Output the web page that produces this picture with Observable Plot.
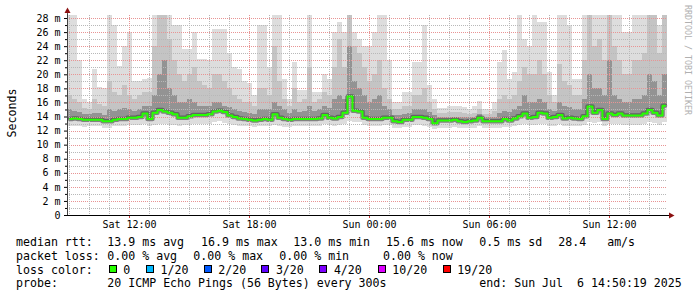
<!DOCTYPE html>
<html><head><meta charset="utf-8">
<script src="https://cdn.jsdelivr.net/npm/d3@7"></script>
<script src="https://cdn.jsdelivr.net/npm/@observablehq/plot@0.6"></script>
<style>
html,body{margin:0;padding:0;background:#fff;}
#wrap{position:relative;width:697px;height:297px;overflow:hidden;background:#fff;}
#wrap svg{position:absolute;left:0;top:0;}
#wrap text{white-space:pre;}
</style></head><body><div id="wrap"></div>
<script>
// ---- data (ms), one column per 15 minutes, starting Sat Jul 5 2025 08:54 ----
const median = [
13.7,13.8,13.7,13.6,13.6,13.6,13.6,13.4,13.4,13.6,
13.7,13.7,13.9,13.9,14.0,14.5,13.7,14.6,15.0,14.8,
14.6,14.4,13.9,13.9,14.1,14.3,14.3,14.3,14.4,14.8,
14.9,14.7,14.2,14.0,13.8,13.7,13.6,13.5,13.6,13.7,
13.6,14.4,13.9,13.7,13.6,13.7,13.7,13.7,13.7,13.7,
13.8,14.3,13.9,13.8,14.0,14.6,16.9,14.9,14.8,13.9,
13.7,13.7,13.7,13.9,13.9,13.4,13.3,13.6,13.6,14.0,
14.0,13.9,13.7,13.1,13.5,13.5,13.5,13.6,13.4,13.3,
13.4,13.5,13.9,13.4,13.4,13.4,13.4,13.7,13.5,13.8,
14.1,14.5,13.9,14.0,14.6,14.5,13.9,14.0,14.3,13.8,
13.9,13.8,13.7,14.1,15.5,14.6,15.0,13.7,14.5,14.3,
14.5,14.2,14.2,14.2,14.2,14.5,15.0,14.6,14.2,15.6];
const maxPing = [
28.4,28.4,22.0,16.5,16.0,20.7,18.2,18.0,28.4,27.0,
21.2,24.0,26.0,19.0,19.0,19.3,19.5,28.4,28.4,28.4,
28.4,27.0,27.0,23.6,23.6,26.0,22.2,22.2,22.0,26.5,
26.5,26.5,23.0,21.0,20.7,19.0,18.8,17.0,27.0,27.0,
21.0,28.4,28.4,19.3,16.5,21.7,17.7,17.7,28.4,17.5,
17.5,20.0,19.3,26.0,27.5,26.0,28.4,26.0,25.0,24.0,
24.0,26.0,28.4,28.4,22.0,16.0,16.0,17.5,17.5,21.7,
21.7,27.0,18.5,16.5,15.2,15.2,15.5,15.5,15.5,15.3,
15.1,15.5,16.2,15.0,15.1,16.0,21.7,23.4,19.3,20.3,
28.4,25.0,24.0,28.4,27.4,27.4,20.3,17.0,28.4,28.4,
27.0,19.3,19.3,28.4,28.4,28.4,28.4,28.4,28.4,28.4,
28.4,26.0,26.0,28.4,28.4,28.4,28.4,28.4,27.0,27.0];
const upper2 = [
17,16.5,16,15.2,15,16.5,15.8,15.5,19,17.5,
17,18.5,17,16.5,17,17.5,17.5,24,28.4,28.4,
25,22,20,19,20,21,19,18.5,18,20,
20,19,18,17,16.5,16,16,15.5,18,18,
17,24,19,16.5,15.5,18,16,16.5,21,16,
16.5,17.5,17,21,25,21,28.4,24,23,21,
19,20,22,18,16.5,15,15,15.5,15.5,17,
17,18,16,15,14.5,14.5,14.6,14.6,14.6,14.5,
14.4,14.5,15,14.3,14.4,14.8,16.5,17,16.5,17,
19,21,20,20,22,20,17,16,21.5,19,
18.5,17,17,22,28.4,24,25,22,28.4,24,
22,20,20,22,22,23,28.4,28.4,23,28.4];
const upper3 = [
15,14.8,14.6,14.4,14.3,14.5,14.5,14.2,15,14.8,
15,15.2,15,14.8,15,15.5,15.5,17,20,22,
18,17,16,16,16.5,16,15.5,15.5,15.5,16,
16,15.5,15.3,15,14.8,14.6,14.5,14.4,15,15,
15,16,15.5,15,14.5,15,14.6,14.8,15.5,14.8,
15,15.5,15.2,16.5,17,16.5,24,19,18,17,
16,16.5,17,15.5,15,14.2,14.2,14.4,14.5,15,
15,15,14.6,14.2,14,14,14,14,14,13.9,
13.9,14,14.3,13.9,13.9,14,14.5,14.8,14.6,15,
15.5,17,16,16,16.5,16,15,14.8,16,15.5,
15.3,15,15,16.5,20,18,18,17,22,17,
16.5,16,16,16.5,16.5,17,20,19,17,20];
const minPing = [
12.6,12.7,12.7,12.5,12.6,12.7,12.6,12.4,12.4,12.6,
12.7,12.7,12.8,12.8,12.8,13.0,12.7,12.8,13.0,13.0,
12.8,12.8,12.7,12.8,12.8,13.0,13.0,13.0,13.0,13.2,
13.3,13.1,12.9,12.8,12.7,12.6,12.6,12.5,12.6,12.6,
12.6,12.8,12.7,12.5,12.5,12.6,12.6,12.6,12.6,12.6,
12.7,12.9,12.8,12.7,12.8,13.0,13.3,13.2,13.2,12.8,
12.7,12.7,12.7,12.8,12.8,12.4,12.3,12.5,12.5,12.8,
12.8,12.7,12.5,12.2,12.4,12.4,12.4,12.5,12.4,12.3,
12.4,12.4,12.6,12.4,12.4,12.4,12.4,12.5,12.5,12.6,
12.8,13.0,12.8,12.8,13.0,13.0,12.7,12.7,12.9,12.7,
12.7,12.7,12.6,12.8,13.2,13.1,13.2,12.7,13.0,12.9,
13.0,12.8,12.8,12.8,12.8,13.0,13.2,13.1,12.8,13.2];

const yMajorTicks = [0,2,4,6,8,10,12,14,16,18,20,22,24,26,28];
const yMinorTicks = [1,3,5,7,9,11,13,15,17,19,21,23,25,27];
const xMajorTicks = [Date.UTC(2025,6,5,12), Date.UTC(2025,6,5,18), Date.UTC(2025,6,6,0), Date.UTC(2025,6,6,6), Date.UTC(2025,6,6,12)];

const rttLabel = "median rtt:";
const rttStats = ["13.9 ms avg","16.9 ms max","13.0 ms min","15.6 ms now","0.5 ms sd","28.4   am/s"];
const lossLabel = "packet loss:";
const lossStats = ["0.00 % avg","0.00 % max","0.00 % min","0.00 % now"];
const colorLabel = "loss color:";
const lossNames = ["0","1/20","2/20","3/20","4/20","10/20","19/20"];
const lossColors = ["#26ff00","#00b8ff","#0059ff","#5e00ff","#7e00ff","#dd00ff","#ff0000"];
const probeLabel = "probe:";
const probeText = "20 ICMP Echo Pings (56 Bytes) every 300s";
const endText = "end: Sun Jul  6 14:50:19 2025";

// ---- build ----
const start = Date.UTC(2025,6,5,8,54);
const step = 15*60000;
const end = start + 30*3600000;
const rows = median.map((m,i)=>({
  t0:new Date(start+i*step), t1:new Date(start+(i+1)*step), tc:new Date(start+(i+0.5)*step),
  med:m, mx:maxPing[i], u2:upper2[i], u3:upper3[i], lo:minPing[i]}));

const hours = d3.utcHour.range(new Date(start), new Date(end));
const majorSet = new Set(xMajorTicks);
const xMinor = hours.filter(d=>!majorSet.has(+d));
const xMajor = xMajorTicks.map(d=>new Date(d));
const MONO = "'DejaVu Sans Mono', monospace";

const plot = Plot.plot({
  width:697, height:232, marginLeft:67, marginRight:30, marginTop:15, marginBottom:17,
  style:{fontFamily:MONO, fontSize:"10px", background:"transparent", color:"#000"},
  x:{type:"utc", domain:[new Date(start), new Date(end)]},
  y:{domain:[0,28.43]},
  marks:[
    Plot.rect(rows,{x1:"t0",x2:"t1",y1:"lo",y2:"mx",fill:"#dddddd",shapeRendering:"crispEdges"}),
    Plot.rect(rows,{x1:"t0",x2:"t1",y1:"med",y2:"u2",fill:"#c4c4c4",shapeRendering:"crispEdges"}),
    Plot.rect(rows,{x1:"t0",x2:"t1",y1:"med",y2:"u3",fill:"#939393",shapeRendering:"crispEdges"}),
    Plot.line(rows,{x:"tc",y:"med",curve:"step",stroke:"#444",strokeWidth:4.5,strokeOpacity:0.6}),
    Plot.ruleY(yMinorTicks,{stroke:"#b8b8b8",strokeDasharray:"1,1",shapeRendering:"crispEdges"}),
    Plot.ruleY(yMajorTicks.filter(d=>d>0),{stroke:"#e89494",strokeDasharray:"1,1",shapeRendering:"crispEdges"}),
    Plot.ruleX(xMinor,{stroke:"#b8b8b8",strokeDasharray:"1,1",shapeRendering:"crispEdges"}),
    Plot.ruleX(xMajor,{stroke:"#e89494",strokeDasharray:"1,1",shapeRendering:"crispEdges"}),
    Plot.line(rows,{x:"tc",y:"med",curve:"step",stroke:"#26ff00",strokeWidth:2}),
    Plot.axisY({ticks:yMajorTicks,tickSize:3,tickPadding:4,label:null,tickFormat:d=>d===0?"0":d+" m",fontSize:10}),
    Plot.axisY({ticks:yMinorTicks,tickSize:2,label:null,tickFormat:()=>""}),
    Plot.axisX({ticks:xMajor,tickSize:3,label:null,tickFormat:()=>"",stroke:"#d04040"}),
    Plot.axisX({ticks:xMajor,tickSize:0,tickPadding:5,label:null,tickFormat:d3.utcFormat("%a %H:%M"),fontSize:10}),
    Plot.ruleX([new Date(start)],{y1:0,y2:28.7,stroke:"#404040"}),
    Plot.ruleY([0],{x1:new Date(start-9*60000),x2:new Date(end+6*60000),stroke:"#000"})
  ]
});
const wrap = document.getElementById("wrap");
wrap.appendChild(plot);

// ---- overlay: arrows, titles, legend ----
const xs = plot.scale("x"), ys = plot.scale("y");
const ax = Math.round(xs.apply(new Date(start))) + 0.5;
const ay = Math.round(ys.apply(0)) + 0.5;
const axEnd = Math.round(xs.apply(new Date(end+6*60000)));
const ov = d3.create("svg").attr("width",697).attr("height",297)
  .attr("font-family",MONO).style("position","absolute").style("left","0").style("top","0");
ov.append("path").attr("d",`M${ax-3},${13}L${ax},${7.5}L${ax+3},${13}Z`).attr("fill","#8b1010");
ov.append("path").attr("d",`M${axEnd},${ay-3}L${axEnd+5.5},${ay}L${axEnd},${ay+3}Z`).attr("fill","#8b1010");

ov.append("text").attr("transform","translate(15.5,113) rotate(-90)").attr("text-anchor","middle")
  .attr("font-size","11.6px").attr("fill","#000").text("Seconds");
ov.append("text").attr("transform","translate(685,5) rotate(90)").attr("text-anchor","start")
  .attr("font-size","8.3px").attr("fill","#b0b0b0").text("RRDTOOL / TOBI OETIKER");

const nb = s => s.replace(/ /g,"\u00a0");
const lg = ov.append("g").attr("font-size","11.6px").attr("fill","#000");
const base = [246, 259.8, 273.6, 287.4];
const put = (x,y,s)=>lg.append("text").attr("x",x).attr("y",y).text(nb(s));
put(16,base[0],rttLabel);
[107.3,201,293.3,386,479.3,558.3].forEach((x,i)=>put(x,base[0],rttStats[i]));
put(16,base[1],lossLabel);
[107.3,193.3,279.3,383].forEach((x,i)=>put(x,base[1],lossStats[i]));
put(16,base[2],colorLabel);
const boxX = [108.7,146,203.7,261.3,319.3,377.7,442.7];
lossNames.forEach((n,i)=>{
  lg.append("rect").attr("x",Math.round(boxX[i])+0.5).attr("y",265.5).attr("width",7).attr("height",7)
    .attr("fill",lossColors[i]).attr("stroke","#000").attr("stroke-width",1);
  put(boxX[i]+14.6,base[2],n);
});
put(16,base[3],probeLabel);
put(107.3,base[3],probeText);
put(479.3,base[3],endText);
wrap.appendChild(ov.node());
</script></body></html>
